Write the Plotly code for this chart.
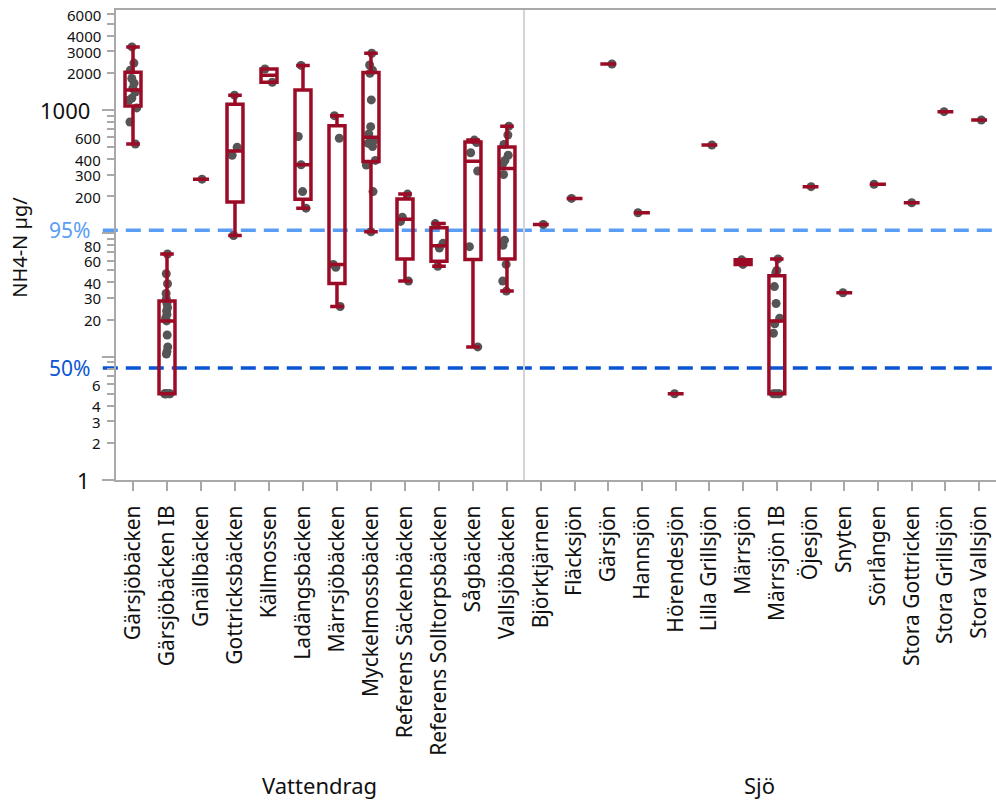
import numpy as np
import plotly.graph_objects as go

# ---- categories -------------------------------------------------------------
vattendrag = ["Gärsjöbäcken", "Gärsjöbäcken IB", "Gnällbäcken", "Gottricksbäcken",
              "Källmossen", "Ladängsbäcken", "Märrsjöbäcken", "Myckelmossbäcken",
              "Referens Säckenbäcken", "Referens Solltorpsbäcken", "Sågbäcken",
              "Vallsjöbäcken"]
sjo = ["Björktjärnen", "Fläcksjön", "Gärsjön", "Hannsjön", "Hörendesjön",
       "Lilla Grillsjön", "Märrsjön", "Märrsjön IB", "Öjesjön", "Snyten",
       "Sörlången", "Stora Gottricken", "Stora Grillsjön", "Stora Vallsjön"]

# ---- NH4-N measurements (µg/l) per site -------------------------------------
garsjobacken = [3250, 2400, 2100, 1800, 1650, 1500, 1400, 1250, 1200, 1040, 800, 530]
garsjobacken_ib = [68, 47, 39, 32.5, 29.5, 27, 25, 23.5, 22, 20.5, 19.5, 15, 12,
                   11, 10.5, 5, 5, 5, 5, 5, 5]
gnallbacken = [275]
gottricksbacken = [1320, 500, 430, 96]
kallmossen = [2150, 1680]
ladangsbacken = [2300, 610, 360, 218, 160]
marrsjobacken = [900, 590, 56, 53, 25.5]
myckelmossbacken = [2883, 2318, 2100, 1982, 1207, 733, 640, 560, 538, 505, 390,
                    358, 218, 103]
referens_sackenbacken = [208, 135, 125, 41]
referens_solltorpsbacken = [120, 83, 76, 54]
sagbacken = [570, 545, 450, 320, 78, 12]
vallsjobacken = [740, 627, 525, 430, 390, 370, 300, 88, 80, 56, 41, 34]

bjorktjarnen = [118]
flacksjon = [192]
garsjon = [2360]
hannsjon = [147]
horendesjon = [5]
lilla_grillsjon = [520]
marrsjon = [61, 58.5, 56]
marrsjon_ib = [62, 50, 48, 37, 27, 20.5, 18.5, 15.5, 5, 5, 5, 5]
ojesjon = [239]
snyten = [33]
sorlangen = [250]
stora_gottricken = [177]
stora_grillsjon = [970]
stora_vallsjon = [830]

# reference levels (percentiles)
p95_level = 106
p50_level = 8.1

# y-axis labels
small_labels = [2, 3, 4, 6, 20, 30, 40, 60, 80, 200, 300, 400, 600, 2000, 3000, 4000, 6000]
big_labels = [1, 1000]

vattendrag_values = [garsjobacken, garsjobacken_ib, gnallbacken, gottricksbacken,
                     kallmossen, ladangsbacken, marrsjobacken, myckelmossbacken,
                     referens_sackenbacken, referens_solltorpsbacken, sagbacken,
                     vallsjobacken]
sjo_values = [bjorktjarnen, flacksjon, garsjon, hannsjon, horendesjon,
              lilla_grillsjon, marrsjon, marrsjon_ib, ojesjon, snyten, sorlangen,
              stora_gottricken, stora_grillsjon, stora_vallsjon]

RED = "#9c0b26"
DOT = "#555555"
AXIS = "#a9a9a9"
LIGHT_BLUE = "#5a9df5"
DARK_BLUE = "#0b55d3"
FONT = "Noto Sans"
BOX_W = 0.47

fig = go.Figure()


def add_panel(cats, values, xref):
    # jittered raw observations
    xs, ys = [], []
    for c, v in zip(cats, values):
        xs += [c] * len(v)
        ys += list(v)
    fig.add_trace(go.Box(
        x=xs, y=ys, xaxis=xref, yaxis="y",
        boxpoints="all", jitter=0.6, pointpos=0,
        marker=dict(color=DOT, size=9, opacity=1),
        line=dict(width=0, color="rgba(0,0,0,0)"),
        fillcolor="rgba(0,0,0,0)", width=BOX_W,
        hoverinfo="skip", showlegend=False))

    # quantile boxes, (n+1)p quartiles, whiskers to the extremes
    q1, med, q3, lo, hi = [], [], [], [], []
    for v in values:
        a = np.asarray(v, dtype=float)
        p = np.percentile(a, [25, 50, 75], method="weibull")
        q1.append(p[0]); med.append(p[1]); q3.append(p[2])
        lo.append(a.min()); hi.append(a.max())
    fig.add_trace(go.Box(
        x=cats, q1=q1, median=med, q3=q3, lowerfence=lo, upperfence=hi,
        xaxis=xref, yaxis="y", boxpoints=False,
        line=dict(color=RED, width=3.5), fillcolor="rgba(255,255,255,0)",
        width=BOX_W, whiskerwidth=0.85, showlegend=False))


add_panel(vattendrag, vattendrag_values, "x")
add_panel(sjo, sjo_values, "x2")

SPLIT = 0.4636
ymax = np.log10(6470)

xcommon = dict(
    type="category", tickangle=-90, ticks="outside", ticklen=9, tickwidth=1.5,
    tickcolor=AXIS, showline=True, linecolor=AXIS, linewidth=2, mirror=True,
    showgrid=False, zeroline=False, anchor="y", ticklabelstandoff=6,
    tickfont=dict(family=FONT, size=21, color="#111111"))

fig.update_layout(
    width=996, height=803,
    margin=dict(l=116, r=0, t=10, b=323),
    paper_bgcolor="white", plot_bgcolor="white",
    boxmode="overlay",
    font=dict(family=FONT, color="#111111"),
    xaxis=dict(domain=[0, SPLIT], range=[-0.5, len(vattendrag) - 0.5],
               categoryorder="array", categoryarray=vattendrag, **xcommon),
    xaxis2=dict(domain=[SPLIT, 1], range=[-0.5, len(sjo) - 0.5],
                categoryorder="array", categoryarray=sjo, **xcommon),
    yaxis=dict(type="log", range=[0, ymax], showline=True, linecolor=AXIS,
               linewidth=2, showgrid=False, zeroline=False,
               tickvals=[1, 10, 100, 1000], ticks="outside", ticklen=12,
               tickwidth=1.5, tickcolor=AXIS, showticklabels=False,
               minor=dict(tickvals=[2, 3, 4, 5, 6, 7, 8, 9, 20, 30, 40, 50, 60, 70,
                                    80, 90, 200, 300, 400, 500, 600, 700, 800, 900,
                                    2000, 3000, 4000, 5000, 6000],
                          ticks="outside", ticklen=7, tickwidth=1.5,
                          tickcolor=AXIS, showgrid=False)),
)

# panel divider
fig.add_shape(type="line", xref="paper", yref="paper", x0=SPLIT, x1=SPLIT,
              y0=0, y1=1, line=dict(color="#d4d4d4", width=2))

# percentile reference lines
for lvl, col in [(p95_level, LIGHT_BLUE), (p50_level, DARK_BLUE)]:
    fig.add_shape(type="line", xref="paper", yref="y", x0=-0.015, x1=1,
                  y0=lvl, y1=lvl, layer="below",
                  line=dict(color=col, width=3.5, dash="15px,8px"))

# y tick labels
for v in small_labels:
    fig.add_annotation(x=0, xref="paper", y=np.log10(v), yref="y",
                       text=str(v), showarrow=False, xanchor="right",
                       yanchor="middle", xshift=-14, borderpad=0, height=13,
                       font=dict(family=FONT, size=15, color="#111111"))
for v in big_labels:
    fig.add_annotation(x=0, xref="paper", y=np.log10(v), yref="y",
                       text=str(v), showarrow=False, xanchor="right",
                       yanchor="middle", xshift=-25, borderpad=0,
                       font=dict(family=FONT, size=22, color="#111111"))
for lvl, col, txt in [(p95_level, LIGHT_BLUE, "95%"), (p50_level, DARK_BLUE, "50%")]:
    fig.add_annotation(x=0, xref="paper", y=np.log10(lvl), yref="y",
                       text=txt, showarrow=False, xanchor="right",
                       yanchor="middle", xshift=-25, borderpad=0, height=18,
                       font=dict(family=FONT, size=21, color=col))

# axis title
fig.add_annotation(x=0, xref="paper", y=0.494, yref="paper", text="NH4-N µg/",
                   textangle=-90, showarrow=False, xanchor="center",
                   yanchor="middle", xshift=-96,
                   font=dict(family=FONT, size=20, color="#111111"))

# group labels
fig.add_annotation(x=SPLIT / 2, xref="paper", y=-0.649, yref="paper",
                   text="Vattendrag", showarrow=False, xanchor="center",
                   yanchor="middle",
                   font=dict(family=FONT, size=22, color="#111111"))
fig.add_annotation(x=(SPLIT + 1) / 2, xref="paper", y=-0.649, yref="paper",
                   text="Sjö", showarrow=False, xanchor="center",
                   yanchor="middle",
                   font=dict(family=FONT, size=22, color="#111111"))

fig.write_html("out.html")
